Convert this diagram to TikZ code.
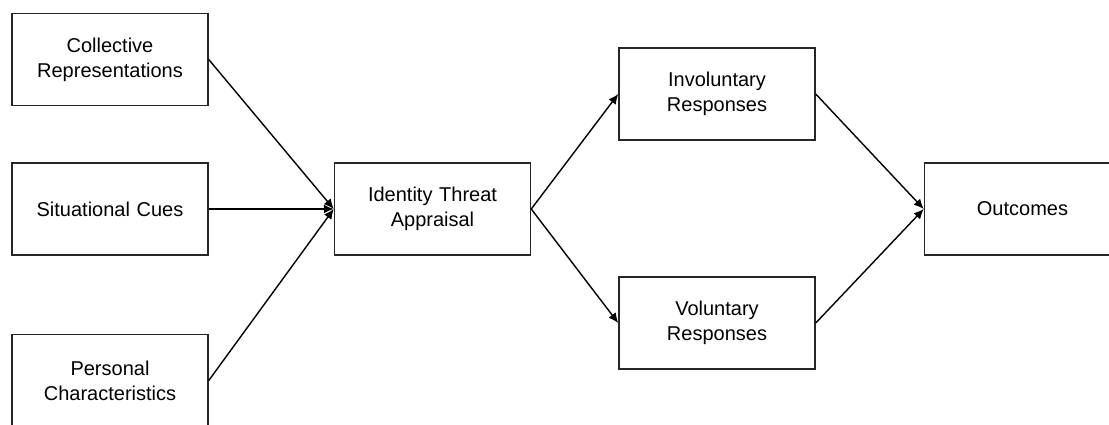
\documentclass[tikz,border=0pt]{standalone}
\usepackage{fontspec}
\setmainfont{Liberation Sans}
\usetikzlibrary{arrows.meta, positioning}
\tikzstyle{factor} = [rectangle, draw = black!85, line width = 0.75pt, minimum width = 98pt, minimum height = 46pt, text width = 90pt, text centered, font = \fontsize{10}{12.5}\selectfont]
\tikzstyle{path} = [line width = 0.7pt, -{Latex[length=5pt, width=4.5pt]}]

\begin{document}
\begin{tikzpicture}[align=center]
  \useasboundingbox (-55pt,-107.5pt) rectangle (499.5pt,104.5pt);
  \node (cues) [factor] {Situational Cues};
  \node (collective) [factor, above = 28pt of cues] {Collective\\Representations};
  \node (personal) [factor, below = 39pt of cues] {Personal\\Characteristics};
  \node (appraisal) [factor, right = 62.5pt of cues] {Identity Threat\\Appraisal};
  \draw [path] (collective.east) -- (appraisal.west);
  \draw [path] (cues.east) -- (appraisal.west);
  \draw [path] (personal.east) -- (appraisal.west);
  \node (involuntary) [factor, right = 43.5pt of appraisal, yshift = 57.5pt] {Involuntary\\Responses};
  \node (voluntary) [factor, right = 43.5pt of appraisal, yshift = -57pt] {Voluntary\\Responses};
  \draw [path] (appraisal.east) -- (involuntary.west);
  \draw [path] (appraisal.east) -- (voluntary.west);
  \node (outcomes) [factor, right = 54pt of involuntary, yshift = -57.5pt] {Outcomes};
  \draw [path] (involuntary.east) -- (outcomes.west);
  \draw [path] (voluntary.east) -- (outcomes.west);
\end{tikzpicture}
\end{document}
